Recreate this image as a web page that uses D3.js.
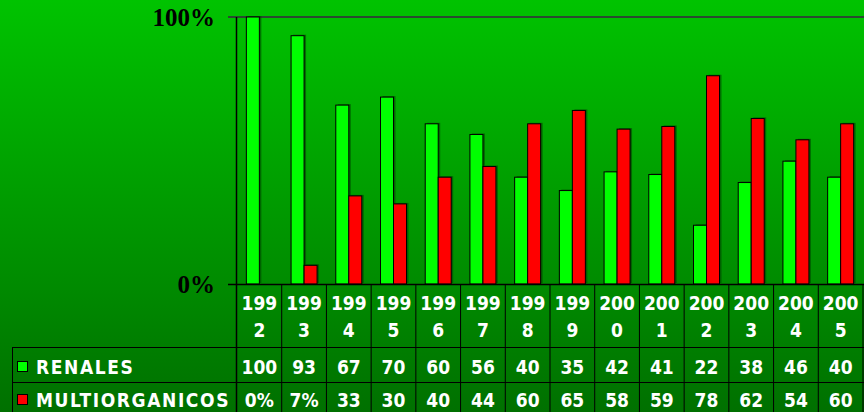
<!DOCTYPE html>
<html>
<head>
<style>
  body, html { margin: 0; padding: 0; background: #007000; }
  svg { display: block; }
</style>
</head>
<body>
<svg id="svg" width="864" height="412"></svg>
<script src="https://d3js.org/d3.v7.min.js"></script>
<script>
  const years = ['1992','1993','1994','1995','1996','1997','1998','1999','2000','2001','2002','2003','2004','2005']
  const renales = [100, 93, 67, 70, 60, 56, 40, 35, 42, 41, 22, 38, 46, 40]
  const multi = [0, 7, 33, 30, 40, 44, 60, 65, 58, 59, 78, 62, 54, 60]
  const renalesLabels = ['100','93','67','70','60','56','40','35','42','41','22','38','46','40']
  const multiLabels = ['0%','7%','33','30','40','44','60','65','58','59','78','62','54','60']
  const seriesNames = ['RENALES', 'MULTIORGANICOS']
  const colors = ['#00ff00', '#ff0000']

  const W = 864, H = 412
  const svg = d3.select('#svg')

  const defs = svg.append('defs')
  const grad = defs.append('linearGradient').attr('id', 'bg')
      .attr('x1', 0).attr('y1', 0).attr('x2', 0).attr('y2', 1)
  grad.append('stop').attr('offset', '0%').attr('stop-color', '#00c300')
  grad.append('stop').attr('offset', '70%').attr('stop-color', '#008a00')
  grad.append('stop').attr('offset', '100%').attr('stop-color', '#007000')
  svg.append('rect').attr('width', W).attr('height', H).attr('fill', 'url(#bg)')

  const x = d3.scaleBand().domain(years).range([237, 863])
  const inner = d3.scaleBand().domain([0, 1]).range([0, x.bandwidth()])
      .paddingInner(0).paddingOuter(0.72)
  const y = d3.scaleLinear().domain([0, 100]).range([284, 17])

  // top gridline
  svg.append('line').attr('x1', 228).attr('x2', W).attr('y1', y(100)).attr('y2', y(100))
      .attr('stroke', '#2a4a30').attr('stroke-width', 2)

  // axis labels
  svg.selectAll('text.ylab').data([100, 0]).join('text')
      .attr('class', 'ylab')
      .attr('x', 215).attr('y', d => y(d) + 9)
      .attr('text-anchor', 'end')
      .attr('font-family', 'Liberation Serif')
      .attr('font-weight', 'bold')
      .attr('font-size', 25)
      .text(d => d + '%')

  // bars
  const series = [renales, multi]
  series.forEach((vals, si) => {
    const g = svg.append('g')
    g.selectAll('rect.sh').data(vals).join('rect')
        .attr('class', 'sh')
        .attr('x', (d, i) => x(years[i]) + inner(si) + 2)
        .attr('y', d => y(d) - 1)
        .attr('width', inner.bandwidth())
        .attr('height', d => Math.max(0, y(0) - y(d)))
        .attr('fill', '#004400').attr('opacity', d => d > 0 ? 0.6 : 0)
    g.selectAll('rect.bar').data(vals).join('rect')
        .attr('class', 'bar')
        .attr('x', (d, i) => x(years[i]) + inner(si))
        .attr('y', d => y(d))
        .attr('width', inner.bandwidth())
        .attr('height', d => y(0) - y(d))
        .attr('fill', colors[si])
        .attr('stroke', '#000').attr('stroke-width', d => d > 0 ? 1 : 0)
  })

  // axes lines
  svg.append('line').attr('x1', 236.5).attr('x2', 236.5).attr('y1', y(100)).attr('y2', H)
      .attr('stroke', '#000').attr('stroke-width', 1.5)
  svg.append('line').attr('x1', 228).attr('x2', W).attr('y1', 284.5).attr('y2', 284.5)
      .attr('stroke', '#000').attr('stroke-width', 1.5)

  // table grid
  svg.selectAll('line.vcol').data(years).join('line')
      .attr('class', 'vcol')
      .attr('x1', d => x(d) + x.bandwidth()).attr('x2', d => x(d) + x.bandwidth())
      .attr('y1', 284).attr('y2', H)
      .attr('stroke', '#000').attr('stroke-width', 1)
  svg.append('line').attr('x1', 12).attr('x2', W).attr('y1', 347.5).attr('y2', 347.5)
      .attr('stroke', '#000')
  svg.append('line').attr('x1', 12).attr('x2', W).attr('y1', 382.5).attr('y2', 382.5)
      .attr('stroke', '#000')
  svg.append('line').attr('x1', 12.5).attr('x2', 12.5).attr('y1', 347).attr('y2', H)
      .attr('stroke', '#000')

  const txt = sel => sel.attr('font-family', 'DejaVu Sans Condensed, DejaVu Sans')
      .attr('font-stretch', 'condensed').attr('font-weight', 'bold')
      .attr('font-size', 19).attr('fill', '#fff').attr('text-anchor', 'middle')

  // year header, split in two lines
  svg.selectAll('text.yr1').data(years).join('text').attr('class', 'yr1')
      .call(txt)
      .attr('x', d => x(d) + x.bandwidth() / 2).attr('y', 310)
      .text(d => d.slice(0, 3))
  svg.selectAll('text.yr2').data(years).join('text').attr('class', 'yr2')
      .call(txt)
      .attr('x', d => x(d) + x.bandwidth() / 2).attr('y', 337)
      .text(d => d.slice(3))

  const labels = [renalesLabels, multiLabels]
  const rowY = [374, 407]
  labels.forEach((lab, si) => {
    svg.selectAll('text.v' + si).data(lab).join('text').attr('class', 'v' + si)
        .call(txt)
        .attr('x', (d, i) => x(years[i]) + x.bandwidth() / 2).attr('y', rowY[si])
        .text(d => d)
    svg.append('rect').attr('x', 17.5).attr('y', rowY[si] - 12.5)
        .attr('width', 10).attr('height', 10)
        .attr('fill', colors[si]).attr('stroke', '#000')
    svg.append('text').call(txt).attr('text-anchor', 'start')
        .attr('letter-spacing', 1.6)
        .attr('x', 36).attr('y', rowY[si])
        .text(seriesNames[si])
  })
</script>
</body>
</html>
